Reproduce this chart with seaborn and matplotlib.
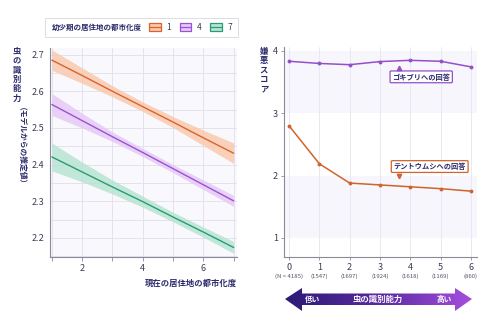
import numpy as np
import pandas as pd
import matplotlib
matplotlib.use("Agg")
import matplotlib.pyplot as plt
import seaborn as sns
from matplotlib.patches import Rectangle, Polygon
from matplotlib.lines import Line2D
import matplotlib.transforms as mtrans

# ---------------- data ----------------
current_urban = [1, 2, 3, 4, 5, 6, 7]
child_levels = ["1", "4", "7"]
mean_1 = [2.685, 2.643, 2.600, 2.558, 2.516, 2.473, 2.431]
half_1 = [0.028, 0.021, 0.015, 0.013, 0.015, 0.021, 0.028]
mean_4 = [2.564, 2.520, 2.476, 2.433, 2.389, 2.345, 2.301]
half_4 = [0.030, 0.020, 0.013, 0.011, 0.011, 0.013, 0.015]
mean_7 = [2.421, 2.380, 2.339, 2.299, 2.257, 2.216, 2.174]
half_7 = [0.038, 0.027, 0.019, 0.015, 0.013, 0.014, 0.016]

ability = [0, 1, 2, 3, 4, 5, 6]
n_labels = ["(N = 4185)", "(1547)", "(1697)", "(1924)", "(1618)", "(1169)", "(860)"]
cockroach = [3.835, 3.80, 3.78, 3.83, 3.85, 3.835, 3.745]
katydid = [2.80, 2.19, 1.88, 1.85, 1.82, 1.79, 1.75]

# ---------------- style ----------------
sns.set_theme(style="white")
plt.rcParams['font.family'] = ['Noto Sans CJK JP', 'DejaVu Sans']
NAVY = "#2b2a6b"
TICK = "#3c3c55"
line_cols = {"1": "#d8642c", "4": "#9b52d2", "7": "#2a9b74"}
band_cols = {"1": "#f9c9ae", "4": "#e5c9f7", "7": "#b8e4d2"}

W, H = 490, 330
fig = plt.figure(figsize=(W / 100, H / 100), dpi=100)


def fx(x):
    return x / W


def fy(y):
    return 1 - y / H


# ---------------- left panel ----------------
axL = fig.add_axes([fx(50), fy(257), fx(237) - fx(50), fy(48) - fy(257)])
axL.set_facecolor("#f9f9fd")
rows = []
for lvl, m in zip(child_levels, [mean_1, mean_4, mean_7]):
    for x, v in zip(current_urban, m):
        rows.append({"current": x, "child": lvl, "value": v})
dfL = pd.DataFrame(rows)
for lvl, m, h in zip(child_levels, [mean_1, mean_4, mean_7], [half_1, half_4, half_7]):
    m = np.array(m); h = np.array(h)
    axL.fill_between(current_urban, m - h, m + h, color=band_cols[lvl], alpha=0.85,
                     lw=0, zorder=2)
sns.lineplot(data=dfL, x="current", y="value", hue="child", palette=line_cols,
             ax=axL, lw=1.0, legend=False, zorder=3)
axL.set_xlim(0.94, 7.11)
axL.set_ylim(2.148, 2.718)
axL.set_xticks([2, 4, 6])
axL.set_xticks([1, 3, 5, 7], minor=True)
axL.set_yticks([2.2, 2.3, 2.4, 2.5, 2.6, 2.7])
axL.set_yticks(np.arange(2.15, 2.72, 0.05), minor=True)
axL.grid(True, which="both", color="#e0dfeb", lw=0.6, zorder=0)
axL.set_axisbelow(True)
for s in ["top", "right"]:
    axL.spines[s].set_visible(False)
for s in ["left", "bottom"]:
    axL.spines[s].set_color("#8a8a9a")
    axL.spines[s].set_linewidth(0.8)
axL.tick_params(axis="x", which="both", length=3, width=0.6, color="#8a8a9a",
                labelsize=6.5, labelcolor=TICK, pad=2, bottom=True)
axL.tick_params(axis="y", length=0, labelsize=6.5, labelcolor=TICK, pad=4)
axL.set_xlabel("現在の居住地の都市化度", loc="right", fontsize=6, color=NAVY,
               fontweight="bold", labelpad=4)
axL.set_ylabel("")

# left y label (vertical writing)
fig.text(fx(17), fy(47), "\n".join("虫の識別能力"), ha="center", va="top",
         fontsize=6, color=NAVY, fontweight="bold", linespacing=1.05)
fig.text(fx(17), fy(107), "（モデルからの推定値）", ha="center", va="top",
         rotation=270, fontsize=5.6, color=NAVY, fontweight="bold")

# legend
fig.add_artist(Rectangle((fx(45), fy(37)), fx(238) - fx(45), fy(18) - fy(37),
                         transform=fig.transFigure, fill=False,
                         edgecolor="#dcdce4", lw=0.7))
fig.text(fx(52), fy(27.5), "幼少期の居住地の都市化度", ha="left", va="center",
         fontsize=5.4, color=NAVY, fontweight="bold")
handles = []
for lvl in child_levels:
    p = Rectangle((0, 0), 1, 1, facecolor=band_cols[lvl], edgecolor=line_cols[lvl], lw=0.9)
    l = Line2D([], [], color=line_cols[lvl], lw=0.9)
    handles.append((p, l))
fig.legend(handles, child_levels, loc="center left",
           bbox_to_anchor=(fx(145), fy(27.5)), ncol=3, frameon=False,
           fontsize=6, handlelength=1.4, handleheight=1.0, handletextpad=0.7,
           columnspacing=1.0, borderpad=0, labelcolor=TICK)

# ---------------- right panel ----------------
axR = fig.add_axes([fx(284), fy(257), fx(477) - fx(284), fy(47) - fy(257)])
axR.set_facecolor("white")
axR.axhspan(1, 2, color="#f7f6fd", lw=0, zorder=0)
axR.axhspan(3, 4, color="#f7f6fd", lw=0, zorder=0)
dfR = pd.DataFrame({"ability": ability * 2,
                    "score": cockroach + katydid,
                    "insect": ["cockroach"] * 7 + ["katydid"] * 7})
sns.lineplot(data=dfR, x="ability", y="score", hue="insect",
             palette={"cockroach": "#9450c8", "katydid": "#d0642c"},
             marker="o", markersize=2.8, markeredgewidth=0, lw=1.1,
             ax=axR, legend=False, zorder=3)
axR.set_xlim(-0.165, 6.2)
axR.set_ylim(0.693, 4.064)
axR.set_xticks(ability)
axR.set_yticks([1, 2, 3, 4])
axR.grid(True, axis="x", color="#e6e5f0", lw=0.6, zorder=0)
axR.set_axisbelow(True)
for s in ["top", "right"]:
    axR.spines[s].set_visible(False)
for s in ["left", "bottom"]:
    axR.spines[s].set_color("#8a8a9a")
    axR.spines[s].set_linewidth(0.8)
axR.tick_params(axis="both", length=2.5, width=0.6, color="#8a8a9a",
                labelsize=6.5, labelcolor=TICK, pad=2, bottom=True, left=True)
axR.set_xlabel(""); axR.set_ylabel("")
trans = mtrans.blended_transform_factory(axR.transData, axR.transAxes)
for x, lab in zip(ability, n_labels):
    axR.text(x, -0.09, lab, transform=trans, ha="center", va="center",
             fontsize=4.3, color="#555566")

fig.text(fx(264), fy(47), "\n".join("嫌悪スコア"), ha="center", va="top",
         fontsize=6, color=NAVY, fontweight="bold", linespacing=1.05)

# annotations
axR.plot([3.63], [3.73], marker="^", color="#9450c8", markersize=3.2, zorder=6)
axR.text(4.36, 3.585, "ゴキブリへの回答", ha="center", va="center", fontsize=5.2,
         color=NAVY, fontweight="bold", zorder=5,
         bbox=dict(boxstyle="round,pad=0.3,rounding_size=0.15", fc="white",
                   ec="#9450c8", lw=0.9))
axR.plot([3.63], [2.00], marker="v", color="#d0642c", markersize=3.2, zorder=6)
axR.text(4.64, 2.145, "テントウムシへの回答", ha="center", va="center", fontsize=5.2,
         color=NAVY, fontweight="bold", zorder=5,
         bbox=dict(boxstyle="round,pad=0.3,rounding_size=0.15", fc="white",
                   ec="#d0642c", lw=0.9))

# ---------------- gradient arrow ----------------
axA = fig.add_axes([0, 0, 1, 1], zorder=-1)
axA.set_xlim(0, W); axA.set_ylim(H, 0); axA.axis("off")
axA.patch.set_alpha(0)
pts = [(285, 299), (302, 288), (302, 293.5), (455, 293.5), (455, 288), (472, 299),
       (455, 311), (455, 305), (302, 305), (302, 311)]
poly = Polygon(pts, closed=True, fc="none", ec="none")
axA.add_patch(poly)
grad = np.linspace(0, 1, 256).reshape(1, -1)
cmap = matplotlib.colors.LinearSegmentedColormap.from_list(
    "arr", ["#2c1b74", "#5a2aa0", "#a54fe0"])
im = axA.imshow(grad, extent=[285, 472, 311, 288], cmap=cmap, aspect="auto")
im.set_clip_path(poly)
axA.text(312, 299.5, "低い", ha="center", va="center", fontsize=5.5, color="white",
         fontweight="bold")
axA.text(378, 299.5, "虫の識別能力", ha="center", va="center", fontsize=6,
         color="white", fontweight="bold")
axA.text(444, 299.5, "高い", ha="center", va="center", fontsize=5.5, color="white",
         fontweight="bold")

fig.savefig("out.png", dpi=100)
